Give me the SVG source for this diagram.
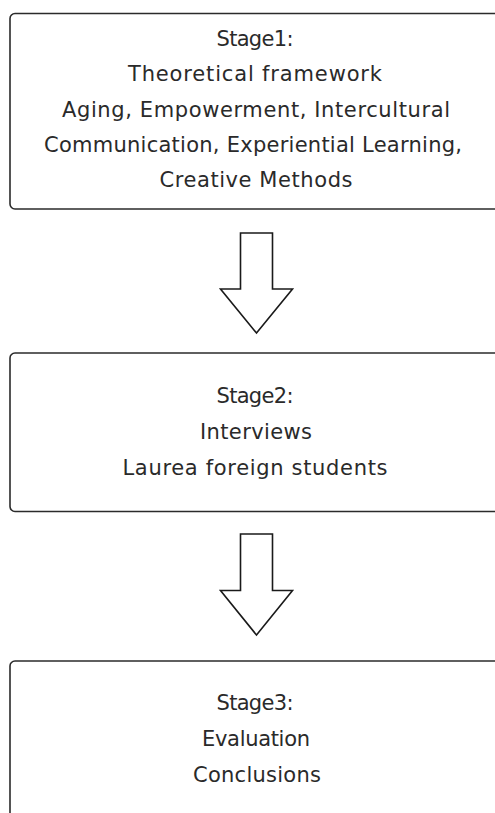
<svg xmlns="http://www.w3.org/2000/svg" width="495" height="813" viewBox="0 0 495 813">
<style>
.box{fill:#fff;stroke:#2b2b2b;stroke-width:1.6}
.arr{fill:#fff;stroke:#1a1a1a;stroke-width:1.6;stroke-linejoin:miter}
text{font-family:"DejaVu Sans","Liberation Sans",sans-serif;font-size:21px;fill:#2a2a2a;text-anchor:middle}
</style>
<rect width="495" height="813" fill="#fff"/>
<g id="stage1">
<rect class="box" x="10" y="13.5" width="492" height="195.5" rx="5"/>
<text x="255" y="46" textLength="77">Stage1:</text>
<text x="255" y="81" textLength="254">Theoretical framework</text>
<text x="256" y="116.5" textLength="388">Aging, Empowerment, Intercultural</text>
<text x="253" y="151.5" textLength="418">Communication, Experiential Learning,</text>
<text x="256" y="186.5" textLength="193">Creative Methods</text>
</g>
<g id="stage2">
<rect class="box" x="10" y="353" width="492" height="158.5" rx="5"/>
<text x="255" y="403" textLength="77">Stage2:</text>
<text x="256" y="438.5" textLength="112">Interviews</text>
<text x="255" y="474.5" textLength="265">Laurea foreign students</text>
</g>
<g id="stage3">
<rect class="box" x="10" y="661" width="492" height="170" rx="5"/>
<text x="255" y="710" textLength="77">Stage3:</text>
<text x="256" y="746" textLength="108">Evaluation</text>
<text x="257" y="781.5" textLength="128">Conclusions</text>
</g>
<g id="connectors">
<path class="arr" d="M240.5 233 H272.5 V289 H292.5 L256.5 333 L220.5 289 H240.5 Z"/>
<path class="arr" d="M240.5 534 H272.5 V590.5 H292.5 L256.5 635 L220.5 590.5 H240.5 Z"/>
</g>
</svg>
